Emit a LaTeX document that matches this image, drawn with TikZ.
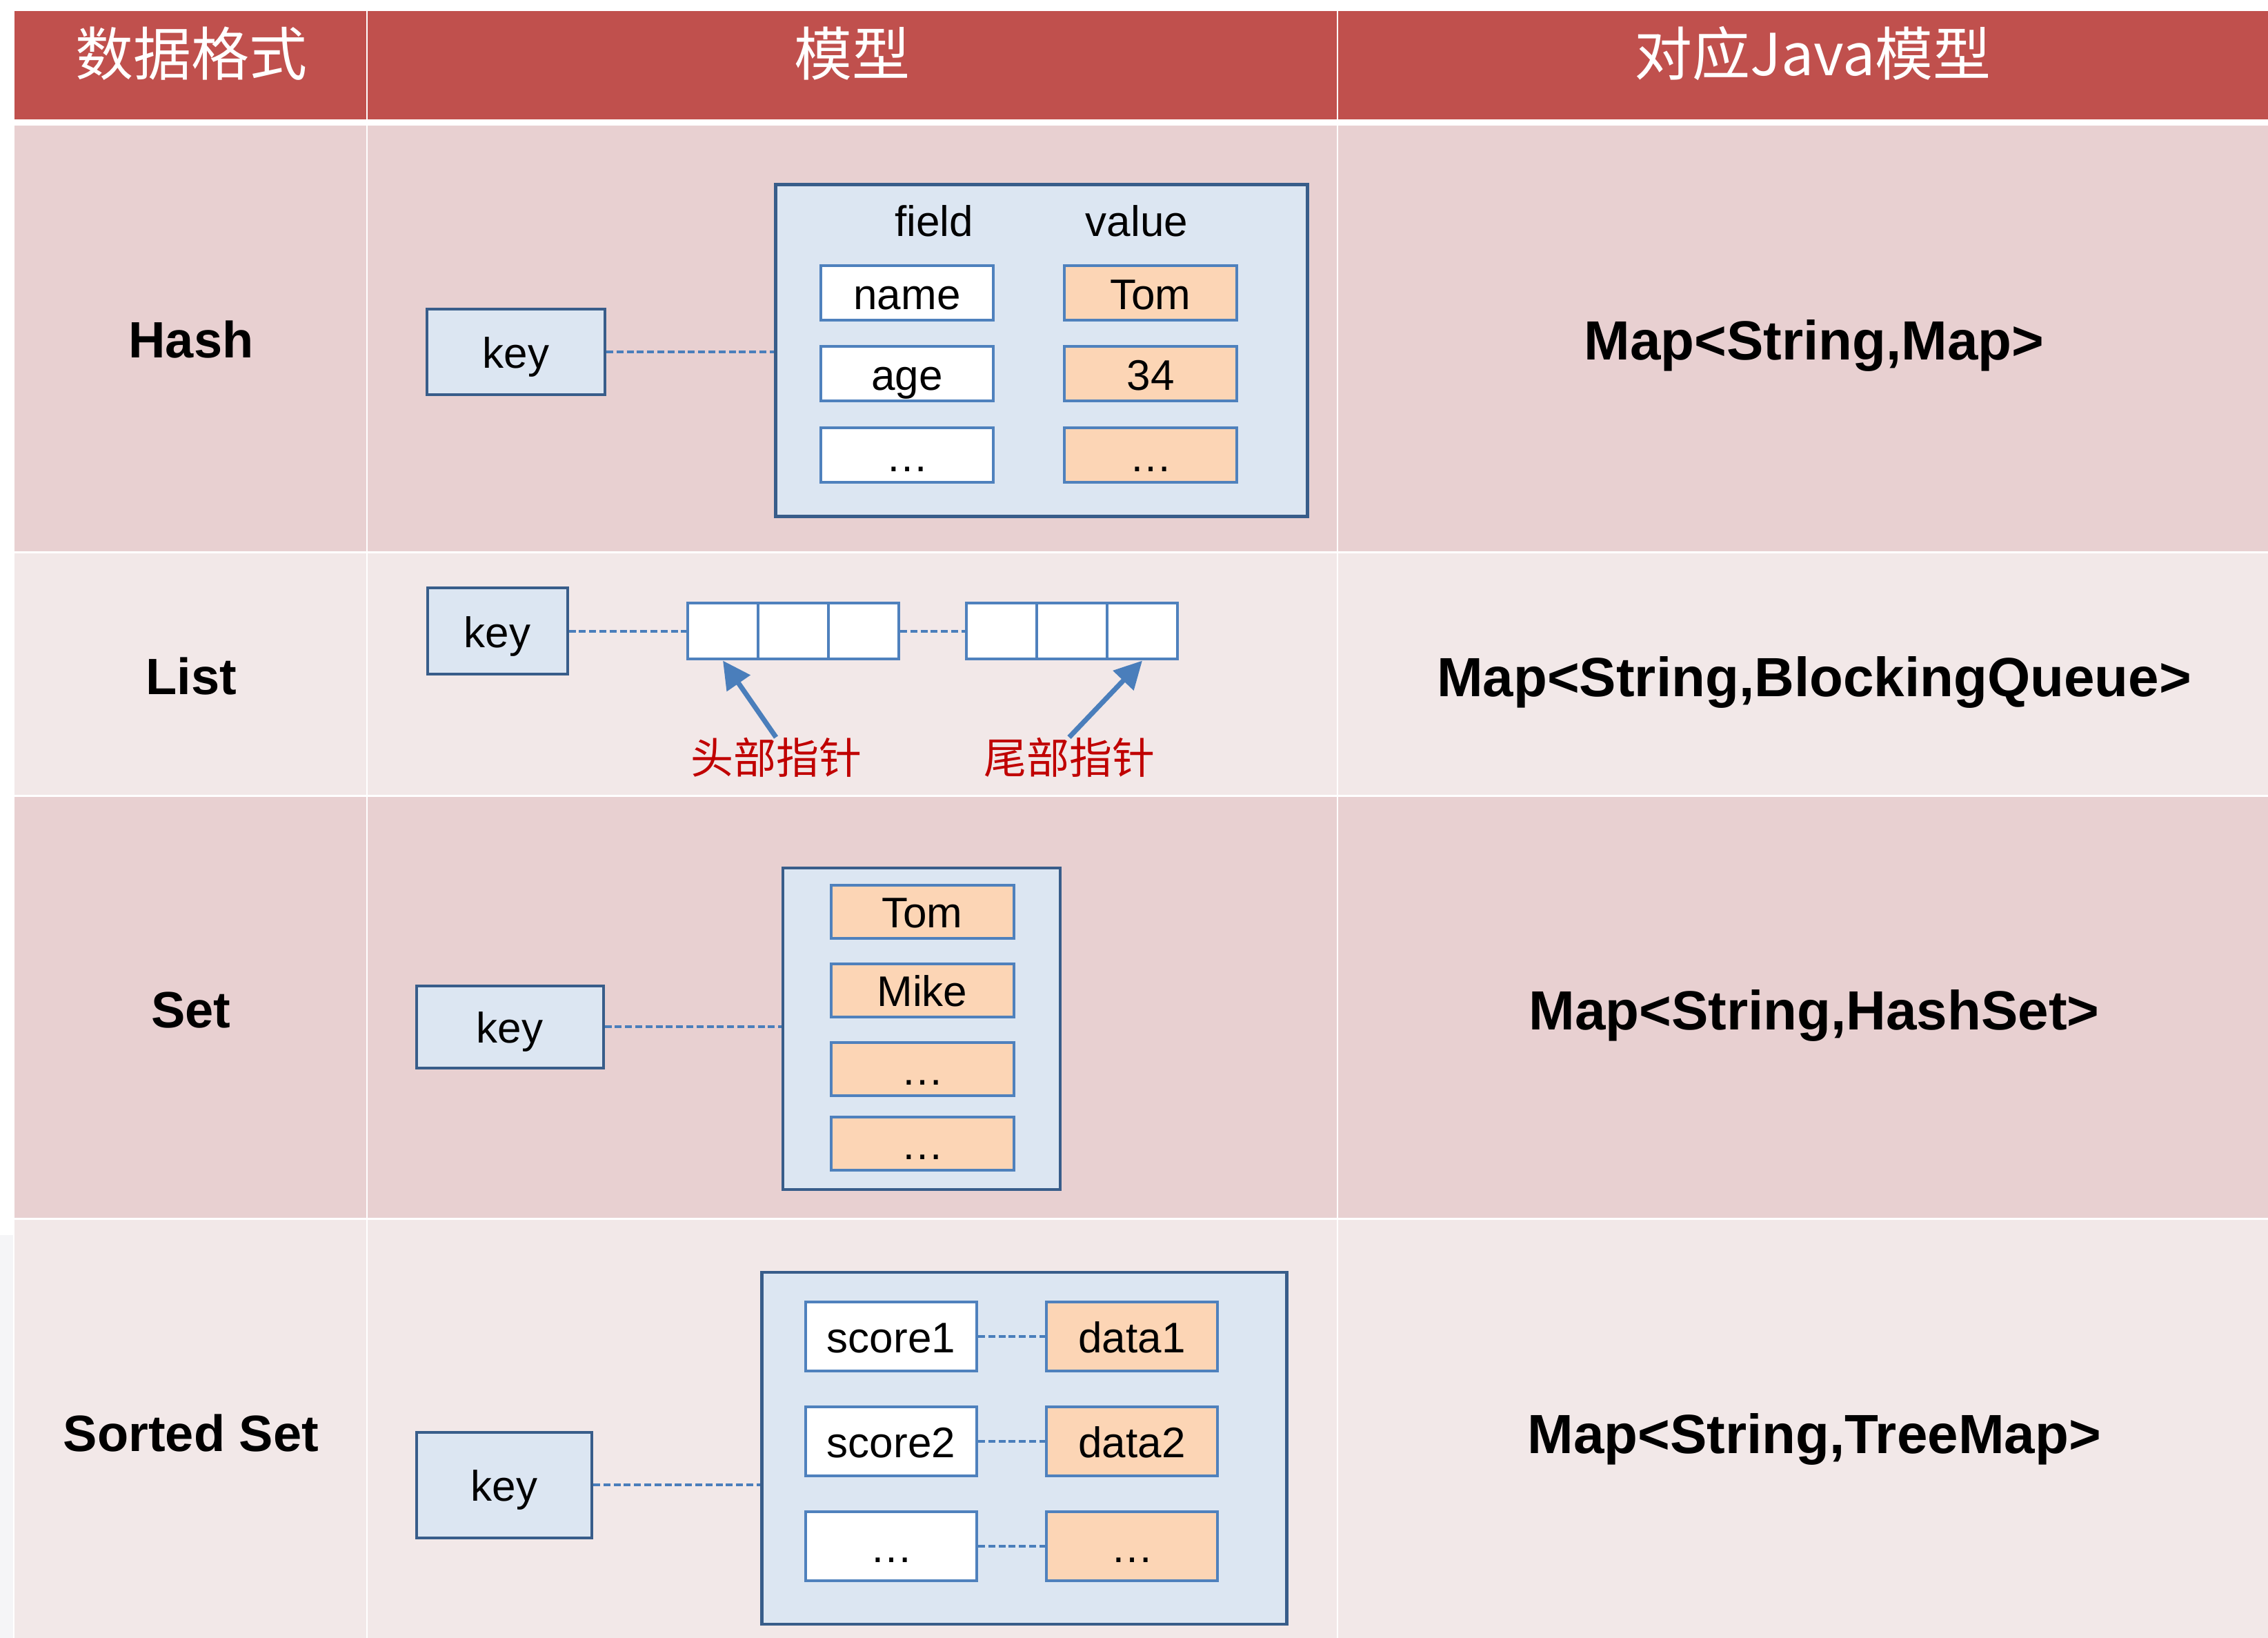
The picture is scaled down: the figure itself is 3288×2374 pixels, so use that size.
\documentclass[tikz,border=0pt]{standalone}
\usepackage{fontspec}
\setmainfont{Liberation Sans}
\newfontfamily\cjk{Noto Sans CJK SC}
\usetikzlibrary{arrows.meta}

\definecolor{headred}{HTML}{C0504D}
\definecolor{bandA}{HTML}{E8D0D1}
\definecolor{bandB}{HTML}{F2E8E8}
\definecolor{sidegray}{HTML}{F5F5F7}
\definecolor{keyline}{HTML}{385D8A}
\definecolor{keyfill}{HTML}{DCE6F2}
\definecolor{cellline}{HTML}{4F81BD}
\definecolor{peach}{HTML}{FCD5B5}
\definecolor{linkblue}{HTML}{4A7EBB}
\definecolor{ptrred}{HTML}{C00000}

\tikzset{
    txt/.style={font=\fontsize{15.5}{18}\selectfont, text height=14.7pt, text depth=3.1pt},
    keybox/.style={txt, draw=keyline, fill=keyfill, line width=1pt, inner sep=0pt},
    holder/.style={draw=keyline, fill=keyfill, line width=1.2pt, inner sep=0pt},
    fieldbox/.style={txt, draw=cellline, fill=white, line width=1pt, inner sep=0pt,
        minimum width=62.5pt, minimum height=19.75pt},
    valbox/.style={fieldbox, fill=peach},
    cell/.style={draw=cellline, fill=white, line width=1pt, inner sep=0pt,
        minimum width=25.5pt, minimum height=20.25pt},
    link/.style={draw=linkblue, line width=0.8pt, dash pattern=on 2.5pt off 1.2pt},
    ptr/.style={draw=linkblue, line width=1.8pt, -{Triangle[length=10pt,width=10pt]}},
    hdr/.style={text=white, font=\cjk\fontsize{21}{25}\selectfont},
    rowlab/.style={font=\bfseries\fontsize{18.5}{22}\selectfont, text height=17.6pt, text depth=3.7pt},
    javalab/.style={font=\bfseries\fontsize{20}{24}\selectfont, text height=19pt, text depth=4pt},
    ptrlab/.style={text=ptrred, inner sep=0pt, font=\cjk\fontsize{15.5}{18}\selectfont}
}

\begin{document}
\begin{tikzpicture}[x=0.25pt, y=-0.25pt]
        \useasboundingbox (0,0) rectangle (3288,2374);
        \fill[white]    (0,0) rectangle (3288,2374);
        \fill[sidegray] (0,1790) rectangle (19,2374);

        % table background
        \fill[headred] (21,16)   rectangle (3288,173);
        \fill[bandA]   (21,182)  rectangle (3288,801);
        \fill[bandB]   (21,801)  rectangle (3288,1153);
        \fill[bandA]   (21,1153) rectangle (3288,1766);
        \fill[bandB]   (21,1766) rectangle (3288,2374);
        \foreach \y in {801,1153,1766}
            \draw[white, line width=0.75pt] (21,\y) -- (3288,\y);
        \foreach \x in {532,1939}
            \draw[white, line width=0.5pt] (\x,16) -- (\x,2374);

        \node[hdr] (hfmt)   at (277,78)  {数据格式};
        \node[hdr] (hmodel) at (1235,78) {模型};
        \node[hdr] (hjava)  at (2628,78) {对应Java模型};

        \node[rowlab] (lhash)   at (277,491)  {Hash};
        \node[rowlab] (llist)   at (277,979)  {List};
        \node[rowlab] (lset)    at (277,1462) {Set};
        \node[rowlab] (lsorted) at (277,2076) {Sorted Set};

        \node[javalab] (jhash)   at (2630,492)  {Map<String,Map>};
        \node[javalab] (jlist)   at (2630,979)  {Map<String,BlockingQueue>};
        \node[javalab] (jset)    at (2630,1462) {Map<String,HashSet>};
        \node[javalab] (jsorted) at (2630,2076) {Map<String,TreeMap>};

        % hash
        \node[holder, minimum width=192.75pt, minimum height=120.25pt] (hbox) at (1510,508) {};
        \node[keybox, minimum width=64.5pt, minimum height=31pt] (hkey) at (748,510) {key};
        \node[txt] (hfield) at (1354,319) {field};
        \node[txt] (hvalue) at (1648,319) {value};
        \node[fieldbox] (hf1) at (1315,425) {name};
        \node[valbox]   (hv1) at (1668,425) {Tom};
        \node[fieldbox] (hf2) at (1315,542) {age};
        \node[valbox]   (hv2) at (1668,542) {34};
        \node[fieldbox] (hf3) at (1315,660) {…};
        \node[valbox]   (hv3) at (1668,660) {…};
        \draw[link] (hkey) -- (hkey -| hbox.west);

        % list
        \node[keybox, minimum width=50.75pt, minimum height=31.25pt] (lkey) at (721,915) {key};
        \foreach \x [count=\i] in {1048,1150,1252}
            \node[cell] (a\i) at (\x,915) {};
        \foreach \x [count=\i] in {1452,1554,1656}
            \node[cell] (b\i) at (\x,915) {};
        \draw[link] (lkey) -- (a1);
        \draw[link] (a3) -- (b1);
        \node[ptrlab] (headptr) at (1125,1098) {头部指针};
        \node[ptrlab] (tailptr) at (1550,1098) {尾部指针};
        \draw[ptr] (headptr.north) -- (a1.south);
        \draw[ptr] (tailptr.north) -- (b3.south);

        % set
        \node[holder, minimum width=100.5pt, minimum height=116.5pt] (sbox) at (1336,1491) {};
        \node[keybox, minimum width=67.75pt, minimum height=29.75pt] (skey) at (739,1488) {key};
        \node[valbox, minimum width=66.25pt, minimum height=19.25pt] (s1) at (1337,1321) {Tom};
        \node[valbox, minimum width=66.25pt, minimum height=19.25pt] (s2) at (1337,1435) {Mike};
        \node[valbox, minimum width=66.25pt, minimum height=19.25pt] (s3) at (1337,1549) {…};
        \node[valbox, minimum width=66.25pt, minimum height=19.25pt] (s4) at (1337,1657) {…};
        \draw[link] (skey) -- (skey -| sbox.west);

        % sorted set
        \node[holder, minimum width=190.25pt, minimum height=127.5pt] (zbox) at (1485,2099) {};
        \node[keybox, minimum width=63.5pt, minimum height=38.25pt] (zkey) at (731,2152) {key};
        \foreach \y/\s/\d [count=\i] in {1937/score1/data1, 2089/score2/data2, 2241/…/…} {
            \node[fieldbox, minimum width=62pt, minimum height=25pt] (zs\i) at (1292,\y) {\s};
            \node[valbox, minimum width=62pt, minimum height=25pt]   (zd\i) at (1641,\y) {\d};
            \draw[link] (zs\i) -- (zd\i);
        }
        \draw[link] (zkey) -- (zkey -| zbox.west);
    \end{tikzpicture}
\end{document}
